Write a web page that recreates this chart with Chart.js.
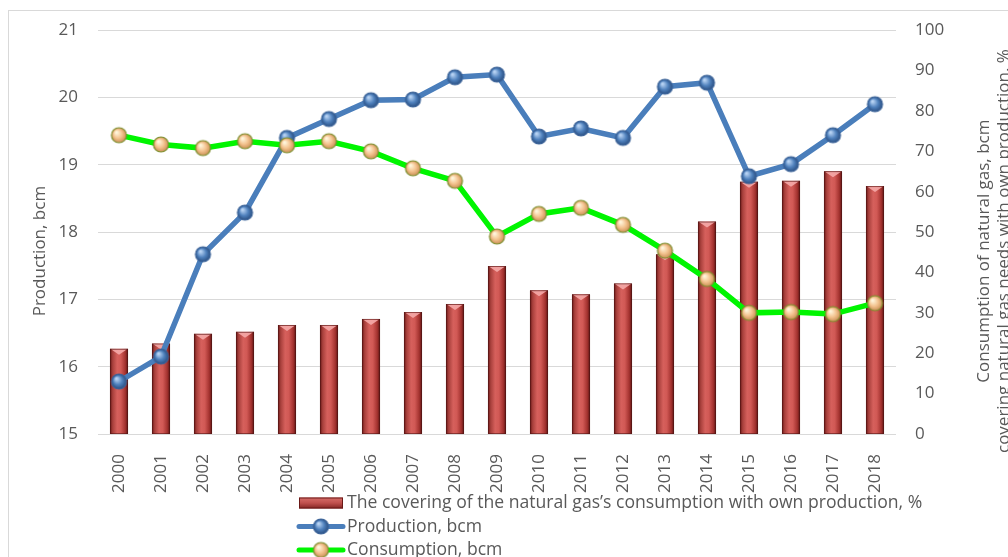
<!DOCTYPE html>
<html>
<head>
<meta charset="utf-8">
<script src="https://cdn.jsdelivr.net/npm/chart.js@4"></script>
<style>
  html, body { margin: 0; padding: 0; background: #fff; }
  #wrap { width: 1008px; height: 557px; position: relative; }
</style>
</head>
<body>
<div id="wrap"><canvas id="my-chart" width="1008" height="557"></canvas></div>
<script>
// DATA
const years = ['2000', '2001', '2002', '2003', '2004', '2005', '2006', '2007', '2008', '2009',
	'2010', '2011', '2012', '2013', '2014', '2015', '2016', '2017', '2018'];
const production = [15.78, 16.15, 17.67, 18.29, 19.40, 19.68, 19.96, 19.97, 20.30, 20.34,
	19.42, 19.54, 19.40, 20.16, 20.22, 18.83, 19.01, 19.44, 19.90];
const consumption = [74.0, 71.7, 70.8, 72.5, 71.5, 72.5, 70.0, 65.8, 62.7, 48.9,
	54.5, 56.0, 51.8, 45.4, 38.4, 30.0, 30.2, 29.7, 32.4];
const covering = [21.1, 22.4, 24.8, 25.3, 27.0, 27.0, 28.5, 30.2, 32.2, 41.6,
	35.6, 34.6, 37.3, 44.5, 52.6, 62.5, 62.7, 65.1, 61.4];
const leftTicks = { min: 15, max: 21, step: 1 };
const rightTicks = { min: 0, max: 100, step: 10 };

const labelCovering = 'The covering of the natural gas\u2019s consumption with own production, %';
const labelProduction = 'Production, bcm';
const labelConsumption = 'Consumption, bcm';
const leftTitle = 'Production, bcm';
const rightTitle = ['Consumption of natural gas, bcm', 'covering natural gas needs with own production, %'];

const FONT = "'Open Sans', 'Noto Sans', sans-serif";
const GREY = '#595959';

// SPHERE MARKERS
function makeSphere(r, light, mid, dark, edge) {
	let c = document.createElement('canvas');
	let s = r * 2 + 4;
	c.width = s;
	c.height = s;
	let g = c.getContext('2d');
	let grad = g.createRadialGradient(s / 2 - r * 0.35, s / 2 - r * 0.4, r * 0.1, s / 2, s / 2, r);
	grad.addColorStop(0, light);
	grad.addColorStop(0.55, mid);
	grad.addColorStop(1, dark);
	g.beginPath();
	g.arc(s / 2, s / 2, r, 0, Math.PI * 2);
	g.fillStyle = grad;
	g.fill();
	g.lineWidth = 1.2;
	g.strokeStyle = edge;
	g.stroke();
	return c;
}
const blueBall = makeSphere(7.5, '#b9d4f4', '#4f81bd', '#2a4f82', '#3a6298');
const tanBall = makeSphere(7.5, '#fff6dc', '#f3c28e', '#c98f55', '#7d8f2e');

// BAR GRADIENT
function barFill(context) {
	let chart = context.chart;
	if (!chart.chartArea || !chart.scales.x)
		return '#c0504d';
	let x = chart.scales.x.getPixelForValue(context.dataIndex);
	let half = 9;
	let grad = chart.ctx.createLinearGradient(x - half, 0, x + half, 0);
	grad.addColorStop(0, '#6a1816');
	grad.addColorStop(0.15, '#a8403c');
	grad.addColorStop(0.4, '#d6605c');
	grad.addColorStop(0.6, '#d15955');
	grad.addColorStop(0.85, '#a3322f');
	grad.addColorStop(1, '#5a1412');
	return grad;
}

// PLUGIN: FRAME, BEVEL, AXIS TITLES, LEGEND
const decor = {
	id: 'decor',
	beforeDraw(chart) {
		let ctx = chart.ctx;
		ctx.save();
		ctx.fillStyle = '#fff';
		ctx.fillRect(0, 0, chart.width, chart.height);
		ctx.strokeStyle = '#d9d9d9';
		ctx.lineWidth = 1;
		ctx.strokeRect(8.5, 10.5, chart.width, chart.height);
		ctx.restore();
	},
	afterDatasetDraw(chart, args) {
		if (args.index !== 0)
			return;
		let ctx = chart.ctx;
		let meta = chart.getDatasetMeta(0);
		ctx.save();
		meta.data.forEach(bar => {
			let l = bar.x - bar.width / 2;
			let r = bar.x + bar.width / 2;
			ctx.beginPath();
			ctx.moveTo(l + 1, bar.y + 0.5);
			ctx.lineTo(r - 1, bar.y + 0.5);
			ctx.lineTo(bar.x, bar.y + 6);
			ctx.closePath();
			ctx.fillStyle = 'rgba(245,170,168,0.9)';
			ctx.fill();
			ctx.strokeStyle = 'rgba(80,20,20,0.55)';
			ctx.lineWidth = 1;
			ctx.strokeRect(l + 0.5, bar.y + 0.5, bar.width - 1, bar.base - bar.y - 1);
		});
		ctx.restore();
	},
	afterDraw(chart) {
		let ctx = chart.ctx;
		let area = chart.chartArea;
		ctx.save();
		// axis titles, read from bottom to top
		ctx.fillStyle = GREY;
		ctx.font = '17px ' + FONT;
		ctx.textAlign = 'center';
		ctx.textBaseline = 'middle';
		let cy = area.top + (area.bottom - area.top) / 2 + 19;
		[[40, leftTitle], [984, rightTitle[0]], [1004, rightTitle[1]]].forEach(t => {
			ctx.save();
			ctx.translate(t[0], cy);
			ctx.rotate(-Math.PI / 2);
			ctx.fillText(t[1], 0, 0);
			ctx.restore();
		});

		// legend, one item per row
		let lx = 299;
		let ly = area.bottom + 69;
		let rowH = 23.5;
		ctx.textAlign = 'left';
		ctx.font = '17.6px ' + FONT;
		chart.data.datasets.forEach((ds, i) => {
			let y = ly + i * rowH;
			if (ds.type === 'bar') {
				let g = ctx.createLinearGradient(0, y - 6, 0, y + 6);
				g.addColorStop(0, '#d9706c');
				g.addColorStop(0.5, '#c0504d');
				g.addColorStop(1, '#7c201e');
				ctx.fillStyle = g;
				ctx.fillRect(lx, y - 5.5, 44, 11);
				ctx.strokeStyle = '#6a1816';
				ctx.strokeRect(lx + 0.5, y - 5, 43, 10);
			} else {
				ctx.strokeStyle = ds.borderColor;
				ctx.lineWidth = 5;
				ctx.lineCap = 'round';
				ctx.beginPath();
				ctx.moveTo(lx, y);
				ctx.lineTo(lx + 44, y);
				ctx.stroke();
				let img = ds.pointStyle;
				ctx.drawImage(img, lx + 22 - img.width / 2, y - img.height / 2);
			}
			ctx.fillStyle = GREY;
			ctx.fillText(ds.label, lx + 48, y);
		});
		ctx.restore();
	}
};

const ctx = document.getElementById('my-chart');
new Chart(ctx, {
	data: {
		labels: years,
		datasets: [{
			type: 'bar',
			label: labelCovering,
			data: covering,
			yAxisID: 'y1',
			backgroundColor: barFill,
			borderWidth: 0,
			barPercentage: 0.43,
			categoryPercentage: 1,
			order: 3,
		},
		{
			type: 'line',
			label: labelProduction,
			data: production,
			yAxisID: 'y',
			borderColor: '#4a7ebb',
			borderWidth: 5.5,
			pointStyle: blueBall,
			pointRadius: 8,
			tension: 0,
			order: 2,
		},
		{
			type: 'line',
			label: labelConsumption,
			data: consumption,
			yAxisID: 'y1',
			borderColor: '#00f500',
			borderWidth: 5.5,
			pointStyle: tanBall,
			pointRadius: 8,
			tension: 0,
			order: 1,
		}]
	},
	options: {
		responsive: false,
		animation: false,
		layout: { padding: { top: 27, left: 0, right: 0, bottom: 0 } },
		plugins: {
			legend: { display: false },
			tooltip: { enabled: false },
		},
		scales: {
			x: {
				grid: { display: false },
				border: { display: false },
				ticks: {
					color: GREY,
					font: { size: 17, family: FONT },
					minRotation: 90,
					maxRotation: 90,
					padding: 12,
				},
				afterFit(scale) { scale.height = 123; }
			},
			y: {
				position: 'left',
				min: leftTicks.min,
				max: leftTicks.max,
				grid: { color: '#d9d9d9', lineWidth: 1, drawTicks: false },
				border: { display: false },
				ticks: {
					stepSize: leftTicks.step,
					color: GREY,
					font: { size: 17, family: FONT },
					padding: 20,
				},
				afterFit(scale) { scale.width = 98; }
			},
			y1: {
				position: 'right',
				min: rightTicks.min,
				max: rightTicks.max,
				grid: { display: false, drawTicks: false },
				border: { display: false },
				ticks: {
					stepSize: rightTicks.step,
					color: GREY,
					font: { size: 17, family: FONT },
					padding: 19,
				},
				afterFit(scale) { scale.width = 112; }
			}
		}
	},
	plugins: [decor]
});
</script>
</body>
</html>
